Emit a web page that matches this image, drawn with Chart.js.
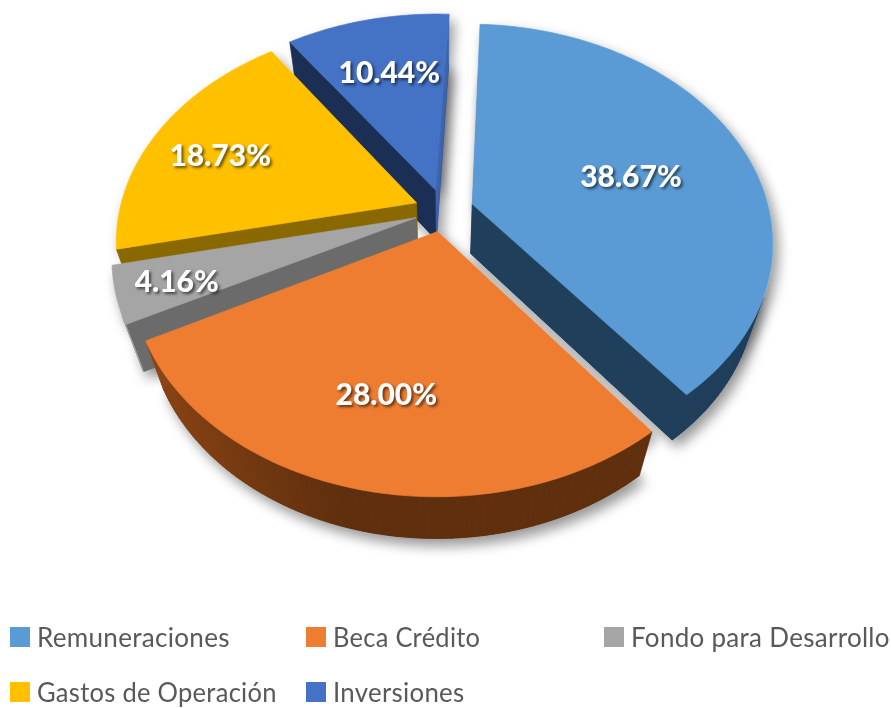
<!DOCTYPE html>
<html>
<head>
<meta charset="utf-8">
<script src="https://cdn.jsdelivr.net/npm/chart.js@4/dist/chart.umd.min.js"></script>
<style>
  html, body { margin: 0; background: #fff; }
  #wrap { position: relative; width: 891px; height: 708px; overflow: hidden; }
  #legend { position: absolute; left: 10px; top: 609px; display: grid; grid-template-columns: 296px 298px auto; grid-auto-rows: 55px; }
  .item { display: flex; align-items: center; white-space: nowrap; font: 400 27px Lato, sans-serif; letter-spacing: 0.3px; color: #595959; }
  .swatch { width: 20px; height: 20px; margin-right: 7px; flex: none; }
  .name { display: inline-block; transform-origin: left center; }
</style>
</head>
<body>
<div id="wrap">
  <canvas id="chart" width="891" height="708"></canvas>
  <div id="legend"></div>
</div>
<script>
const categories = ['Remuneraciones', 'Beca Crédito', 'Fondo para Desarrollo', 'Gastos de Operación', 'Inversiones'];
const shares = [38.67, 28.00, 4.16, 18.73, 10.44];
const colors = ['#5B9BD5', '#EE7D31', '#A5A5A5', '#FFC000', '#4472C4'];
const sideColors = ['#203F5B', '#5F2F0E', '#6B6B6B', '#8A6800', '#1B2E54'];
const labelRadius = [0.58, 0.68, 0.81, 0.74, 0.63];
const labelShift = [[1, 9], [-1, -1], [1, 3], [-3, 8], [-1, -4]];
const legendWidths = [193, 147, 259, 240, 132];

// perspective of the tilted pie, fitted by eye against the picture
const tilt = { a: 297, b: 212.4, k: 0.169, depth: 52, recede: 0.055, explode: 0.1 };

function project(el, u, v, z) {
  const w = 1 - tilt.k * v + tilt.recede * z;
  return { x: el.x + tilt.a * u / w, y: el.y + (tilt.b * v + tilt.depth * z) / w };
}

function slicePath(el) {
  const mid = (el.startAngle + el.endAngle) / 2;
  const ox = tilt.explode * Math.cos(mid), oy = tilt.explode * Math.sin(mid);
  const rim = [];
  const steps = Math.ceil((el.endAngle - el.startAngle) / 0.02);
  for (let i = 0; i <= steps; i++) {
    const t = el.startAngle + (el.endAngle - el.startAngle) * i / steps;
    rim.push({ u: ox + Math.cos(t), v: oy + Math.sin(t), nu: Math.cos(t) });
  }
  return { ox, oy, rim, mid };
}

function poly(ctx, pts, fill) {
  ctx.beginPath();
  pts.forEach((p, i) => i ? ctx.lineTo(p.x, p.y) : ctx.moveTo(p.x, p.y));
  ctx.closePath();
  ctx.fillStyle = fill;
  ctx.fill();
  ctx.strokeStyle = fill;
  ctx.lineWidth = 0.7;
  ctx.stroke();
}

function area(pts) {
  let sum = 0;
  pts.forEach((p, i) => {
    const q = pts[(i + 1) % pts.length];
    sum += p.x * q.y - q.x * p.y;
  });
  return sum;
}

// lighter on the left of the rim, as the light falls there
function rimShade(hex, nu) {
  const n = parseInt(hex.slice(1), 16);
  const f = 1 + 0.75 * Math.max(0, -nu - 0.25);
  return `rgb(${Math.min(255, ((n >> 16) & 255) * f)},${Math.min(255, ((n >> 8) & 255) * f)},${Math.min(255, (n & 255) * f)})`;
}

function block(el, s) {
  const pts = [{ u: s.ox, v: s.oy }, ...s.rim];
  return {
    top: pts.map(p => project(el, p.u, p.v, 0)),
    low: pts.map(p => project(el, p.u, p.v, 1))
  };
}

const pie3d = {
  id: 'pie3d',
  beforeDatasetsDraw(chart) {
    const ctx = chart.ctx;
    const arcs = chart.getDatasetMeta(0).data;
    const order = arcs.map((el, i) => i).sort((p, q) => Math.sin((arcs[p].startAngle + arcs[p].endAngle) / 2) - Math.sin((arcs[q].startAngle + arcs[q].endAngle) / 2));

    // soft shadow first, so it only falls on the background
    ctx.save();
    ctx.shadowColor = 'rgba(0,0,0,0.42)';
    ctx.shadowBlur = 13;
    ctx.shadowOffsetX = 5;
    ctx.shadowOffsetY = 7;
    order.forEach(i => {
      const b = block(arcs[i], slicePath(arcs[i]));
      poly(ctx, b.low, '#fff');
      poly(ctx, b.top, '#fff');
    });
    ctx.restore();

    order.forEach(i => {
      const el = arcs[i];
      const s = slicePath(el);
      const { top, low } = block(el, s);
      poly(ctx, low, sideColors[i]);

      // cut faces, the one turned to the right catches the light
      const n = top.length;
      const startFace = [top[0], top[1], low[1], low[0]];
      const endFace = [top[0], top[n - 1], low[n - 1], low[0]];
      if (area(startFace) < 0) poly(ctx, startFace, sideColors[i]);
      if (area(endFace) > 0) poly(ctx, endFace, Math.cos(el.endAngle + Math.PI / 2) > 0.9 ? '#3C63AC' : sideColors[i]);
      // outer wall, only the part that faces the viewer
      for (let j = 1; j < n - 1; j++) {
        const quad = [top[j], top[j + 1], low[j + 1], low[j]];
        if (area(quad) < 0) poly(ctx, quad, rimShade(sideColors[i], s.rim[j - 1].nu));
      }
      poly(ctx, top, colors[i]);
    });

    // percentages
    ctx.save();
    ctx.font = '900 30px Lato, sans-serif';
    ctx.textAlign = 'center';
    ctx.textBaseline = 'middle';
    ctx.fillStyle = '#fff';
    ctx.shadowColor = 'rgba(0,0,0,0.6)';
    ctx.shadowBlur = 3;
    ctx.shadowOffsetX = 2;
    ctx.shadowOffsetY = 2;
    arcs.forEach((el, i) => {
      const s = slicePath(el);
      const f = labelRadius[i];
      const p = project(el, s.ox + f * Math.cos(s.mid), s.oy + f * Math.sin(s.mid), 0);
      ctx.fillText(shares[i].toFixed(2) + '%', p.x + labelShift[i][0], p.y + labelShift[i][1]);
    });
    ctx.restore();
    return false;
  }
};

new Chart(document.getElementById('chart'), {
  type: 'pie',
  data: {
    labels: categories,
    datasets: [{ data: shares, backgroundColor: colors, borderWidth: 0 }]
  },
  options: {
    responsive: false,
    animation: false,
    rotation: 2.7,
    layout: { padding: { right: 3, bottom: 287 } },
    plugins: { legend: { display: false }, tooltip: { enabled: false } }
  },
  plugins: [pie3d]
});

const legend = document.getElementById('legend');
categories.forEach((name, i) => {
  const item = document.createElement('div');
  item.className = 'item';
  item.innerHTML = `<span class="swatch" style="background:${colors[i]}"></span><span class="name">${name}</span>`;
  legend.appendChild(item);
  const label = item.querySelector('.name');
  label.style.transform = `scaleX(${legendWidths[i] / label.offsetWidth})`;
});
</script>
</body>
</html>
